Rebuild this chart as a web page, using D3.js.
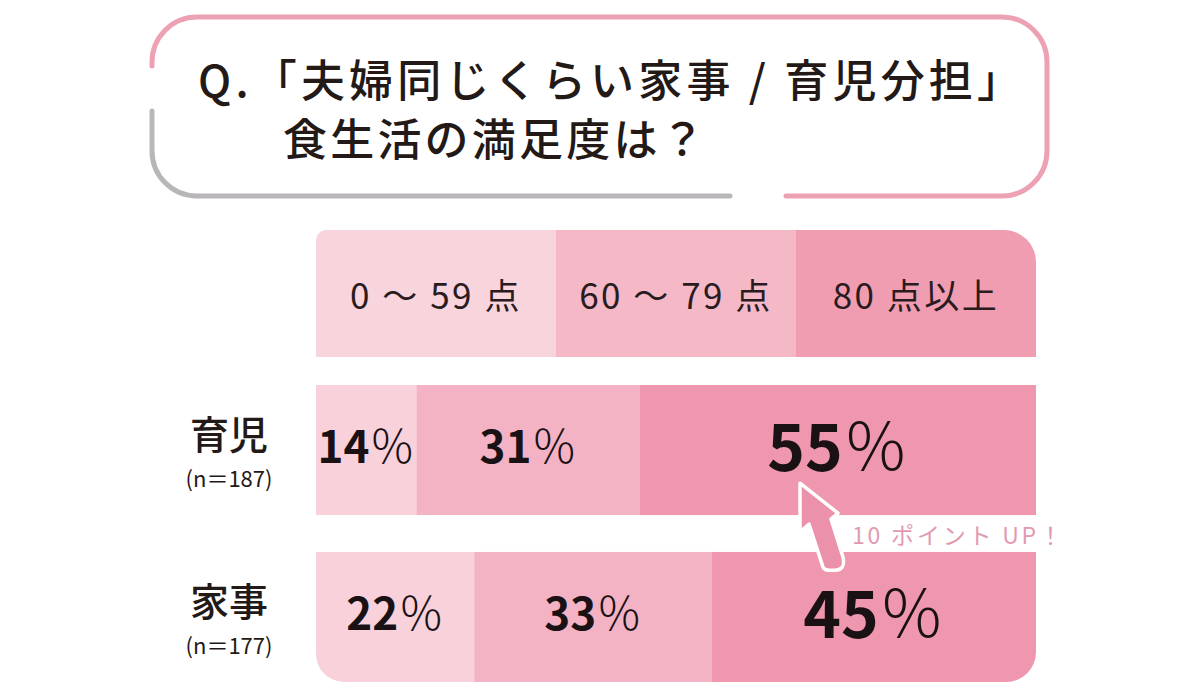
<!DOCTYPE html>
<html>
<head>
<meta charset="utf-8">
<script src="https://cdn.jsdelivr.net/npm/d3@7"></script>
<style>
  html, body { margin: 0; padding: 0; background: #ffffff; }
  svg { display: block; }
  text { font-family: "Noto Sans CJK JP", "Noto Sans", sans-serif; }
</style>
</head>
<body>
<svg id="chart" width="1200" height="692"></svg>
<script>
// ---- data ----
const titleLines = ["Q.「夫婦同じくらい家事 / 育児分担」", "食生活の満足度は？"];
const bands = ["0 ～ 59 点", "60 ～ 79 点", "80 点以上"];
const categories = ["育児", "家事"];
const sampleSizes = ["(n＝187)", "(n＝177)"];
const lowShare = [14, 22];     // 0〜59点
const midShare = [31, 33];     // 60〜79点
const highShare = [55, 45];    // 80点以上
const annotation = "10 ポイント UP！";

// ---- styles ----
const bandColors = ["#f8d1db", "#f3b3c4", "#ef97ae"];
const headerColors = ["#f8d4dd", "#f4b8c7", "#f09db2"];
const ink = "#231916";

const svg = d3.select("#chart");

// ---- title box ----
const tb = { x0: 152, y0: 17, x1: 1047, y1: 196, r: 45 };
const pinkPath = d3.path();
pinkPath.moveTo(tb.x0, 66);
pinkPath.lineTo(tb.x0, tb.y0 + tb.r);
pinkPath.arcTo(tb.x0, tb.y0, tb.x0 + tb.r, tb.y0, tb.r);
pinkPath.lineTo(tb.x1 - tb.r, tb.y0);
pinkPath.arcTo(tb.x1, tb.y0, tb.x1, tb.y0 + tb.r, tb.r);
pinkPath.lineTo(tb.x1, tb.y1 - tb.r);
pinkPath.arcTo(tb.x1, tb.y1, tb.x1 - tb.r, tb.y1, tb.r);
pinkPath.lineTo(786, tb.y1);
svg.append("path").attr("d", pinkPath.toString())
  .attr("fill", "none").attr("stroke", "#eda2b4").attr("stroke-width", 5).attr("stroke-linecap", "round");

const grayPath = d3.path();
grayPath.moveTo(tb.x0, 111);
grayPath.lineTo(tb.x0, tb.y1 - tb.r);
grayPath.arcTo(tb.x0, tb.y1, tb.x0 + tb.r, tb.y1, tb.r);
grayPath.lineTo(730, tb.y1);
svg.append("path").attr("d", grayPath.toString())
  .attr("fill", "none").attr("stroke", "#b9b6b9").attr("stroke-width", 5).attr("stroke-linecap", "round");

svg.append("text").attr("x", 198).attr("y", 97)
  .attr("font-size", 44).attr("font-weight", 500).attr("fill", ink).attr("letter-spacing", 4.2)
  .attr("xml:space", "preserve")
  .text(titleLines[0]);
svg.append("text").attr("x", 283).attr("y", 156)
  .attr("font-size", 44).attr("font-weight", 500).attr("fill", ink).attr("letter-spacing", 3.2)
  .text(titleLines[1]);

// ---- scales ----
const x = d3.scaleLinear().domain([0, 100]).range([316, 1036]);
const y = d3.scaleBand().domain(categories).range([385, 682]).paddingInner(0.22);
const header = { y: 230, h: 127 };

const rows = categories.map((c, i) => ({ category: c, low: lowShare[i], mid: midShare[i], high: highShare[i] }));
const keys = ["low", "mid", "high"];
const stack = d3.stack().keys(keys)(rows);

// ---- clip: rounded outer corners of the panel ----
function roundedRect(x0, y0, w, h, r) { // r = [tl, tr, br, bl]
  const p = d3.path();
  p.moveTo(x0 + r[0], y0);
  p.lineTo(x0 + w - r[1], y0);
  if (r[1]) p.arcTo(x0 + w, y0, x0 + w, y0 + r[1], r[1]);
  p.lineTo(x0 + w, y0 + h - r[2]);
  if (r[2]) p.arcTo(x0 + w, y0 + h, x0 + w - r[2], y0 + h, r[2]);
  p.lineTo(x0 + r[3], y0 + h);
  if (r[3]) p.arcTo(x0, y0 + h, x0, y0 + h - r[3], r[3]);
  p.lineTo(x0, y0 + r[0]);
  if (r[0]) p.arcTo(x0, y0, x0 + r[0], y0, r[0]);
  p.closePath();
  return p.toString();
}
const W = x(100) - x(0);
const clipD = roundedRect(x(0), header.y, W, header.h, [10, 32, 0, 0]) +
  roundedRect(x(0), y(categories[0]), W, y.bandwidth(), [0, 0, 0, 0]) +
  roundedRect(x(0), y(categories[1]), W, y.bandwidth(), [0, 0, 30, 28]);
svg.append("clipPath").attr("id", "panelClip").append("path").attr("d", clipD);

const panel = svg.append("g").attr("clip-path", "url(#panelClip)");

// header cells
const headerEdges = [0, 100 / 3, 200 / 3, 100];
panel.selectAll("rect.head").data(bands).join("rect")
  .attr("class", "head")
  .attr("x", (d, i) => x(headerEdges[i]))
  .attr("width", (d, i) => x(headerEdges[i + 1]) - x(headerEdges[i]) + 0.5)
  .attr("y", header.y).attr("height", header.h)
  .attr("fill", (d, i) => headerColors[i]);

// bar segments
stack.forEach((layer, li) => {
  panel.selectAll("rect.seg" + li).data(layer).join("rect")
    .attr("class", "seg" + li)
    .attr("x", d => x(d[0]))
    .attr("width", d => x(d[1]) - x(d[0]) + 0.5)
    .attr("y", d => y(d.data.category))
    .attr("height", y.bandwidth())
    .attr("fill", bandColors[li]);
});

// header labels
svg.selectAll("text.headLabel").data(bands).join("text")
  .attr("class", "headLabel")
  .attr("x", (d, i) => (x(headerEdges[i]) + x(headerEdges[i + 1])) / 2)
  .attr("y", header.y + 79)
  .attr("text-anchor", "middle")
  .attr("font-size", 35).attr("font-weight", 400).attr("fill", "#2a1b1f")
  .attr("letter-spacing", 2.5)
  .attr("xml:space", "preserve")
  .text(d => d);

// row labels
svg.selectAll("text.cat").data(categories).join("text")
  .attr("class", "cat")
  .attr("x", 229).attr("y", d => y(d) + 64)
  .attr("text-anchor", "middle")
  .attr("font-size", 39).attr("font-weight", 500).attr("fill", ink)
  .text(d => d);
svg.selectAll("text.n").data(sampleSizes).join("text")
  .attr("class", "n")
  .attr("x", 229).attr("y", (d, i) => y(categories[i]) + 102)
  .attr("text-anchor", "middle")
  .attr("font-size", 22).attr("font-weight", 400).attr("fill", ink)
  .text(d => d);

// value labels
stack.forEach((layer, li) => {
  const big = li === 2;
  const t = svg.selectAll("text.val" + li).data(layer).join("text")
    .attr("class", "val" + li)
    .attr("x", d => (x(d[0]) + x(d[1])) / 2)
    .attr("y", d => y(d.data.category) + (big ? 86 : 78))
    .attr("text-anchor", "middle")
    .attr("fill", "#1a1114");
  t.append("tspan")
    .attr("font-size", big ? 64 : 44).attr("font-weight", 700)
    .text(d => d.data[keys[li]]);
  t.append("tspan")
    .attr("font-size", big ? 66 : 46).attr("font-weight", 300)
    .text("％");
});

// ---- annotation arrow ----
const tipX = (x(stack[2][0][0]) + x(stack[2][0][1])) / 2 - 38;
const tipY = y(categories[0]) + y.bandwidth() - 32;
const arrowPts = [
  [0, 0], [38, 30], [31, 36], [43, 74], [42, 82], [33, 87], [23, 84], [9, 41], [0, 49]
];
const arrow = d3.path();
arrow.moveTo(tipX + arrowPts[0][0], tipY + arrowPts[0][1]);
arrow.lineTo(tipX + arrowPts[1][0], tipY + arrowPts[1][1]);
arrow.lineTo(tipX + arrowPts[2][0], tipY + arrowPts[2][1]);
arrow.lineTo(tipX + arrowPts[3][0], tipY + arrowPts[3][1]);
arrow.quadraticCurveTo(tipX + 46, tipY + 88, tipX + arrowPts[5][0], tipY + arrowPts[5][1]);
arrow.quadraticCurveTo(tipX + 25, tipY + 88, tipX + arrowPts[6][0], tipY + arrowPts[6][1]);
arrow.lineTo(tipX + arrowPts[7][0], tipY + arrowPts[7][1]);
arrow.lineTo(tipX + arrowPts[8][0], tipY + arrowPts[8][1]);
arrow.closePath();
svg.append("path").attr("d", arrow.toString())
  .attr("fill", "#eb91aa").attr("stroke", "#ffffff").attr("stroke-width", 3.5)
  .attr("stroke-linejoin", "round");

svg.append("text")
  .attr("x", tipX + 52).attr("y", tipY + 61)
  .attr("font-size", 23).attr("font-weight", 400).attr("fill", "#e29ab0")
  .attr("letter-spacing", 2.8)
  .text(annotation);
</script>
</body>
</html>
